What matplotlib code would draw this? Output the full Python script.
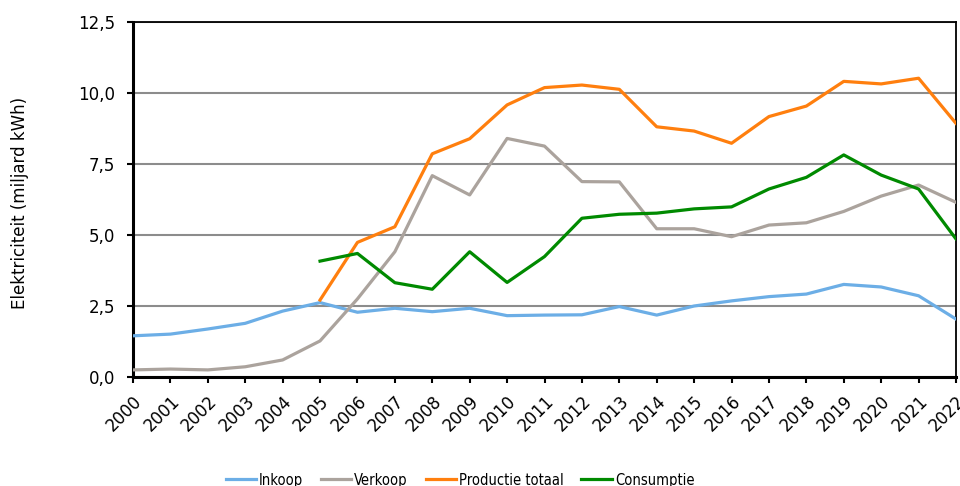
import numpy as np
import matplotlib
matplotlib.use('Agg')
import matplotlib.pyplot as plt
from matplotlib.ticker import FuncFormatter
from matplotlib import font_manager

jaren = list(range(2000, 2023))
jaren_vanaf_2005 = list(range(2005, 2023))

inkoop = [1.45, 1.51, 1.69, 1.89, 2.32, 2.62, 2.28, 2.42, 2.30, 2.42, 2.16, 2.18,
          2.19, 2.48, 2.18, 2.50, 2.68, 2.83, 2.92, 3.26, 3.17, 2.86, 2.04]
verkoop = [0.25, 0.28, 0.25, 0.36, 0.60, 1.27, 2.75, 4.41, 7.09, 6.41, 8.40, 8.13,
           6.88, 6.87, 5.22, 5.22, 4.94, 5.35, 5.43, 5.83, 6.37, 6.76, 6.15]
productie = [2.71, 4.74, 5.29, 7.86, 8.39, 9.58, 10.19, 10.28, 10.13, 8.81, 8.66,
             8.23, 9.17, 9.54, 10.41, 10.32, 10.52, 8.93]
consumptie = [4.08, 4.35, 3.32, 3.09, 4.41, 3.33, 4.24, 5.59, 5.73, 5.77, 5.92,
              5.99, 6.62, 7.03, 7.82, 7.11, 6.62, 4.86]

sumbuY = 'Elektriciteit (miljard kWh)'
yticks = np.arange(0, 12.51, 2.5)

# condensed font for the legend if there is one
namen = {f.name for f in font_manager.fontManager.ttflist}
if 'DejaVu Sans Condensed' in namen:
    legenda_font = {'family': 'DejaVu Sans Condensed', 'size': 10.5}
else:
    legenda_font = {'family': 'DejaVu Sans', 'stretch': 'condensed', 'size': 10.5}

fig = plt.figure(figsize=(9.6, 4.86), dpi=100)
ax = fig.add_axes([133/960, 1 - 377/486, (956-133)/960, (377-22)/486])

lw = 2.3
ax.plot(jaren, inkoop, color='#6caee6', lw=lw, label='Inkoop', zorder=3)
ax.plot(jaren, verkoop, color='#aba39d', lw=lw, label='Verkoop', zorder=3)
ax.plot(jaren_vanaf_2005, productie, color='#ff7f0e', lw=lw, label='Productie totaal', zorder=3)
ax.plot(jaren_vanaf_2005, consumptie, color='#008a00', lw=lw, label='Consumptie', zorder=3)

ax.set_xlim(2000, 2022)
ax.set_ylim(0, 12.5)
ax.set_yticks(yticks)
ax.yaxis.set_major_formatter(FuncFormatter(lambda v, pos: '{:.1f}'.format(v).replace('.', ',')))
ax.set_xticks(jaren)
ax.set_xticklabels([str(j) for j in jaren], rotation=45, ha='right', rotation_mode='anchor')

ax.yaxis.grid(True, color='#8c8c8c', lw=1.5)
ax.set_axisbelow(True)

for s in ['left', 'bottom']:
    ax.spines[s].set_linewidth(2.2)
for s in ['top', 'right']:
    ax.spines[s].set_linewidth(1.3)

ax.tick_params(axis='both', labelsize=12, width=1.5, length=4, color='black')
ax.tick_params(axis='x', pad=7)
ax.tick_params(axis='y', pad=9)
ax.set_ylabel(sumbuY, fontsize=12)
ax.yaxis.set_label_coords(-0.126, 0.49)

fig.legend(loc='center', bbox_to_anchor=(460/960, 1 - 480/486), ncol=4, frameon=False,
           prop=legenda_font, handlelength=2.1, columnspacing=1.2, handletextpad=0.2)

plt.savefig('out.png', dpi=100)
plt.close(fig)
